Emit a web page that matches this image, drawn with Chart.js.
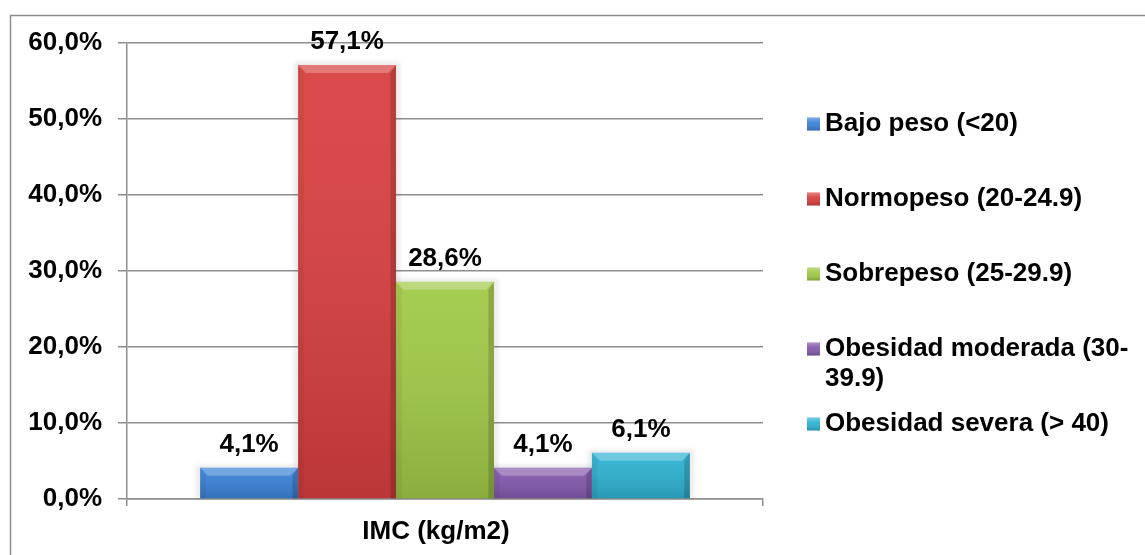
<!DOCTYPE html>
<html>
<head>
<meta charset="utf-8">
<script src="https://cdn.jsdelivr.net/npm/chart.js@4.4.1/dist/chart.umd.min.js"></script>
<style>
  html, body { margin: 0; padding: 0; background: #fff; }
  canvas { display: block; }
</style>
</head>
<body>
<canvas id="chart" width="1145" height="555"></canvas>
<script>
// Category on the x axis
const categories = ['IMC (kg/m2)'];
// Series names (legend lines)
const seriesNames = [
  ['Bajo peso (<20)'],
  ['Normopeso (20-24.9)'],
  ['Sobrepeso (25-29.9)'],
  ['Obesidad moderada (30-', '39.9)'],
  ['Obesidad severa (> 40)']
];
// Percentage of each group
const seriesValues = [4.1, 57.1, 28.6, 4.1, 6.1];
// Y axis ticks (%)
const yTicks = [0, 10, 20, 30, 40, 50, 60];

const seriesColors = ['#3b82d8', '#d93f3f', '#a1c947', '#8459ad', '#2eb2d2'];
const FONT = '"Liberation Sans", Arial, sans-serif';
const fmtPct = v => v.toFixed(1).replace('.', ',') + '%';

// Outer frame (top and left edges)
const framePlugin = {
  id: 'frame',
  beforeDraw(chart) {
    const ctx = chart.ctx;
    ctx.save();
    ctx.strokeStyle = '#8e8e8e';
    ctx.lineWidth = 1.5;
    ctx.beginPath();
    ctx.moveTo(10.5, chart.height);
    ctx.lineTo(10.5, 15.5);
    ctx.lineTo(chart.width, 15.5);
    ctx.stroke();
    ctx.restore();
  }
};

// Soft halo behind each bar and bevelled shading on top of it
const bevelPlugin = {
  id: 'bevel',
  beforeDatasetsDraw(chart) {
    const ctx = chart.ctx;
    ctx.save();
    ctx.filter = 'blur(2px)';
    ctx.fillStyle = 'rgba(0,0,0,0.08)';
    chart.data.datasets.forEach((ds, i) => {
      chart.getDatasetMeta(i).data.forEach(el => {
        const { x, y, width, base } = el.getProps(['x', 'y', 'width', 'base'], true);
        ctx.fillRect(x - width / 2 - 4, y - 3, width + 8, base - y + 3);
      });
    });
    ctx.restore();
  },
  afterDatasetsDraw(chart) {
    const ctx = chart.ctx;
    ctx.save();
    chart.data.datasets.forEach((ds, i) => {
      chart.getDatasetMeta(i).data.forEach(el => {
        const { x, y, width, base } = el.getProps(['x', 'y', 'width', 'base'], true);
        const l = x - width / 2, r = x + width / 2, t = y, b = base;
        const h = b - t;
        const bev = Math.min(8, h / 3);
        // body shading
        const g = ctx.createLinearGradient(0, t, 0, b);
        g.addColorStop(0, 'rgba(255,255,255,0.06)');
        g.addColorStop(1, 'rgba(0,0,0,0.14)');
        ctx.fillStyle = g;
        ctx.fillRect(l, t, width, h);
        // top bevel
        ctx.fillStyle = 'rgba(255,255,255,0.26)';
        ctx.beginPath();
        ctx.moveTo(l, t); ctx.lineTo(r, t); ctx.lineTo(r - bev, t + bev); ctx.lineTo(l + bev, t + bev);
        ctx.closePath(); ctx.fill();
        // left bevel
        ctx.fillStyle = 'rgba(0,0,0,0.05)';
        ctx.beginPath();
        ctx.moveTo(l, t); ctx.lineTo(l + bev * 0.7, t + bev); ctx.lineTo(l + bev * 0.7, b); ctx.lineTo(l, b);
        ctx.closePath(); ctx.fill();
        // right bevel
        ctx.fillStyle = 'rgba(0,0,0,0.16)';
        ctx.beginPath();
        ctx.moveTo(r, t); ctx.lineTo(r - bev * 0.7, t + bev); ctx.lineTo(r - bev * 0.7, b); ctx.lineTo(r, b);
        ctx.closePath(); ctx.fill();
      });
    });
    ctx.restore();
  }
};

// Value labels above the bars
const valueLabelPlugin = {
  id: 'valueLabels',
  afterDatasetsDraw(chart, args, opts) {
    const ctx = chart.ctx;
    ctx.save();
    ctx.font = `bold ${opts.size}px ${FONT}`;
    ctx.fillStyle = '#000';
    ctx.textAlign = 'center';
    ctx.textBaseline = 'middle';
    chart.data.datasets.forEach((ds, i) => {
      chart.getDatasetMeta(i).data.forEach((el, j) => {
        ctx.fillText(fmtPct(ds.data[j]), el.x, el.y - opts.gap);
      });
    });
    ctx.restore();
  }
};

// Legend at the right side, one entry per series
const sideLegendPlugin = {
  id: 'sideLegend',
  afterDraw(chart, args, o) {
    const ctx = chart.ctx;
    ctx.save();
    ctx.font = `bold ${o.size}px ${FONT}`;
    ctx.textBaseline = 'middle';
    ctx.textAlign = 'left';
    chart.data.datasets.forEach((ds, i) => {
      const cy = o.top + i * o.step;
      const bx = o.x, by = cy - o.box / 2;
      ctx.fillStyle = ds.backgroundColor;
      ctx.fillRect(bx, by, o.box, o.box);
      const g = ctx.createLinearGradient(0, by, 0, by + o.box);
      g.addColorStop(0, 'rgba(255,255,255,0.35)');
      g.addColorStop(0.4, 'rgba(255,255,255,0.05)');
      g.addColorStop(1, 'rgba(0,0,0,0.2)');
      ctx.fillStyle = g;
      ctx.fillRect(bx, by, o.box, o.box);
      ctx.fillStyle = '#000';
      ds.lines.forEach((t, k) => ctx.fillText(t, o.textX, cy + k * o.lineHeight));
    });
    ctx.restore();
  }
};

const datasets = seriesNames.map((lines, i) => ({
  label: lines.join(''),
  lines: lines,
  data: [seriesValues[i]],
  backgroundColor: seriesColors[i],
  borderWidth: 0,
  categoryPercentage: 0.77,
  barPercentage: 1.0
}));

new Chart(document.getElementById('chart'), {
  type: 'bar',
  data: { labels: categories, datasets: datasets },
  options: {
    responsive: false,
    animation: false,
    layout: { padding: { top: 43, right: 382, bottom: 0, left: 0 } },
    plugins: {
      legend: { display: false },
      tooltip: { enabled: false },
      valueLabels: { size: 26, gap: 23 },
      sideLegend: { x: 807, textX: 825, top: 124, step: 75, box: 13, size: 26, lineHeight: 30 }
    },
    scales: {
      x: {
        offset: true,
        grid: { display: true, offset: true, drawOnChartArea: false, drawTicks: true, tickLength: 7, color: '#8e8e8e', lineWidth: 1.5 },
        border: { display: true, color: '#8e8e8e', width: 1.5 },
        ticks: { color: '#000', font: { family: FONT, size: 26, weight: 'bold' }, padding: 10, labelOffset: -9 },
        afterFit: s => { s.height = 56; }
      },
      y: {
        min: 0,
        max: 60,
        afterBuildTicks: s => { s.ticks = yTicks.map(v => ({ value: v })); },
        grid: { color: '#8e8e8e', lineWidth: 1.5, tickLength: 9, drawTicks: true },
        border: { display: true, color: '#8e8e8e', width: 1.5 },
        ticks: { color: '#000', font: { family: FONT, size: 26, weight: 'bold' }, padding: 16, callback: v => fmtPct(v) },
        afterFit: s => { s.width = 127; }
      }
    }
  },
  plugins: [framePlugin, bevelPlugin, valueLabelPlugin, sideLegendPlugin]
});
</script>
</body>
</html>
